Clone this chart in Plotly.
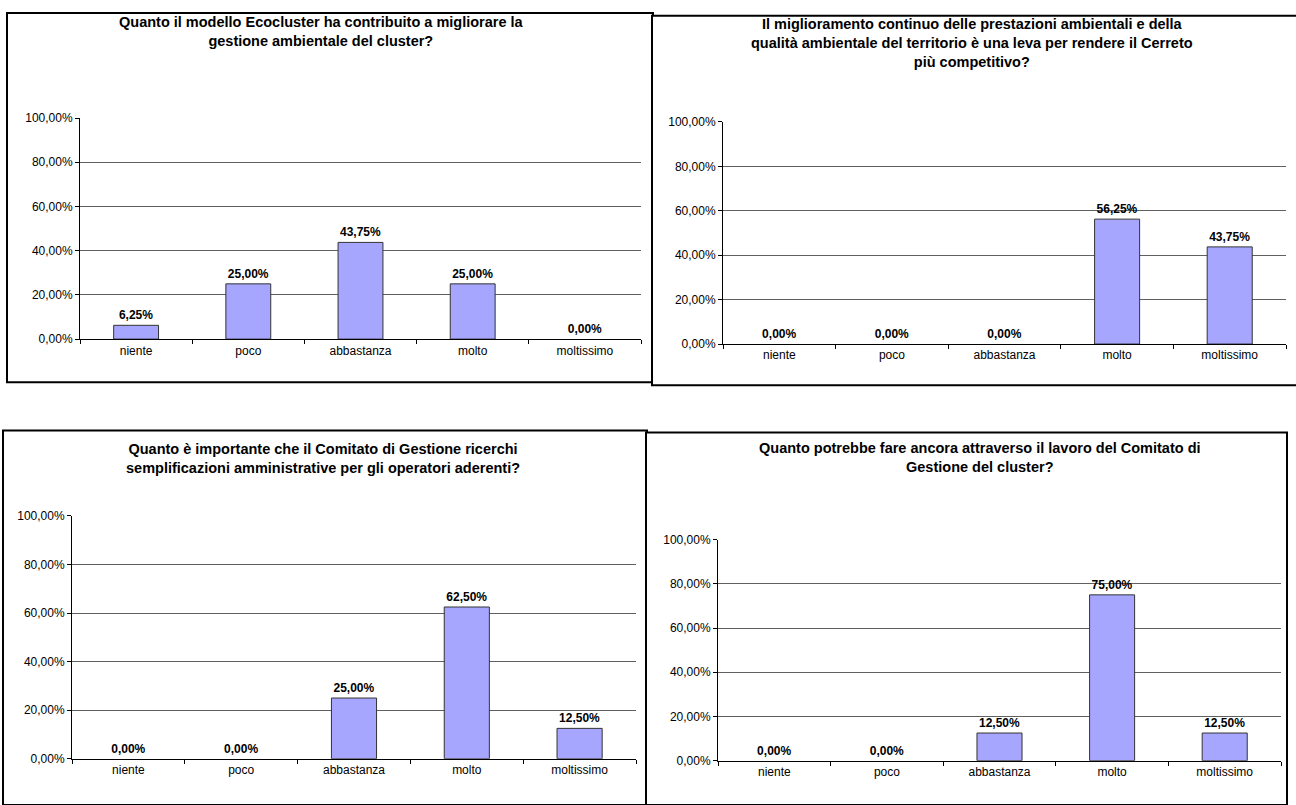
import plotly.graph_objects as go

categories = ["niente", "poco", "abbastanza", "molto", "moltissimo"]

values_1 = [0.0625, 0.25, 0.4375, 0.25, 0.0]
values_2 = [0.0, 0.0, 0.0, 0.5625, 0.4375]
values_3 = [0.0, 0.0, 0.25, 0.625, 0.125]
values_4 = [0.0, 0.0, 0.125, 0.75, 0.125]

titles = [
    "Quanto il modello Ecocluster ha contribuito a migliorare la<br>gestione ambientale del cluster?",
    "Il miglioramento continuo delle prestazioni ambientali e della<br>qualità ambientale del territorio è una leva per rendere il Cerreto<br>più competitivo?",
    "Quanto è importante che il Comitato di Gestione ricerchi<br>semplificazioni amministrative per gli operatori aderenti?",
    "Quanto potrebbe fare ancora attraverso il lavoro del Comitato di<br>Gestione del cluster?",
]

y_tick_vals = [0, 0.2, 0.4, 0.6, 0.8, 1.0]
y_tick_text = ["0,00%", "20,00%", "40,00%", "60,00%", "80,00%", "100,00%"]

W, H = 1296, 805
FONT = "Arial, 'Liberation Sans', sans-serif"
BAR_COLOR = "#a6a6ff"

# panel layout in pixels: plot area (x_left, x_right, y_top(100%), y_bottom(0%)),
# border box (x0, y0, x1, y1), title centre x and top y
panels = [
    dict(plot=(80, 641, 113, 338), box=(7, 6, 653, 382), tx=321, ty=5),
    dict(plot=(723, 1286, 117, 343), box=(652, 9, 1302, 385), tx=972, ty=7),
    dict(plot=(72, 636, 518, 765), box=(3, 431, 647, 812), tx=323, ty=440),
    dict(plot=(718, 1281, 542, 767), box=(646, 433, 1287, 812), tx=980, ty=439),
]
series = [values_1, values_2, values_3, values_4]

fig = go.Figure()
shapes = []
annotations = []

for i, (p, vals, title) in enumerate(zip(panels, series, titles)):
    n = "" if i == 0 else str(i + 1)
    xl, xr, yt, yb = p["plot"]
    bx0, by0, bx1, by1 = p["box"]
    shapes.append(dict(type="rect", xref="paper", yref="paper",
                       x0=bx0 / W, x1=bx1 / W, y0=1 - by1 / H, y1=1 - by0 / H,
                       line=dict(color="#000000", width=2), fillcolor="white",
                       layer="below"))
    annotations.append(dict(text="<b>" + title + "</b>", xref="paper", yref="paper",
                            x=p["tx"] / W, y=1 - p["ty"] / H, xanchor="center",
                            yanchor="top", showarrow=False, align="center",
                            font=dict(family=FONT, size=14.5, color="#000000")))
    line_colors = ["#333333" if v > 0 else "rgba(0,0,0,0)" for v in vals]
    fig.add_trace(go.Bar(
        x=categories, y=vals, xaxis="x" + n, yaxis="y" + n,
        marker=dict(color=BAR_COLOR, line=dict(color=line_colors, width=1)),
        width=0.4,
        texttemplate="<b>%{y:.2%}</b>", textposition="outside",
        textfont=dict(family=FONT, size=12, color="#000000"),
        cliponaxis=False, showlegend=False, hoverinfo="skip",
    ))
    fig.layout["xaxis" + n] = dict(
        domain=[xl / W, xr / W], anchor="y" + n, type="category",
        range=[-0.5, 4.5], showline=True, linecolor="#000000", linewidth=1,
        ticks="outside", tickson="boundaries", ticklen=4, tickcolor="#000000",
        showgrid=False, tickfont=dict(family=FONT, size=12, color="#000000"),
        fixedrange=True,
    )
    fig.layout["yaxis" + n] = dict(
        domain=[1 - yb / H, 1 - yt / H], anchor="x" + n,
        range=[0, 1], tickvals=y_tick_vals, ticktext=y_tick_text,
        showline=True, linecolor="#000000", linewidth=1,
        ticks="outside", ticklen=4, tickcolor="#000000",
        showgrid=True, gridcolor="#606060", gridwidth=1, zeroline=False,
        tickfont=dict(family=FONT, size=12, color="#000000"),
        fixedrange=True,
    )

fig.update_layout(
    width=W, height=H, margin=dict(l=0, r=0, t=0, b=0),
    paper_bgcolor="white", plot_bgcolor="rgba(0,0,0,0)",
    separators=",.", shapes=shapes, annotations=annotations,
    font=dict(family=FONT), uniformtext=dict(mode=False),
)

fig.write_html("out.html", config={"displayModeBar": False})
